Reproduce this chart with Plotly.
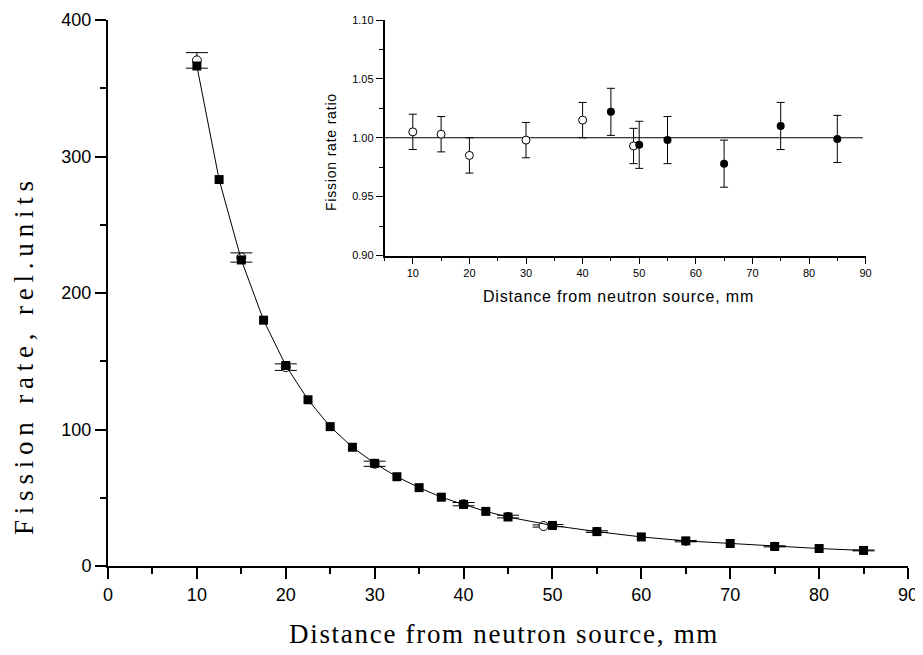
import plotly.graph_objects as go

# ---- Main plot data ----
dist_sq = [10, 12.5, 15, 17.5, 20, 22.5, 25, 27.5, 30, 32.5, 35, 37.5, 40, 42.5, 45,
           50, 55, 60, 65, 70, 75, 80, 85]
rate_sq = [366.3, 283.1, 224.2, 180.1, 146.9, 121.8, 102.1, 87.0, 75.2, 65.4, 57.4, 50.4,
           45.1, 40.0, 35.9, 29.7, 25.2, 21.3, 18.4, 16.5, 14.3, 12.8, 11.4]

dist_open = [10, 15, 20, 30, 40, 49]
rate_open = [370.4, 226.0, 145.7, 74.9, 45.3, 29.3]
err_open = [5.7, 3.4, 2.4, 1.9, 1.2, 0.8]

dist_fill = [45, 50, 55, 65, 75, 85]
rate_fill = [36.2, 29.6, 25.2, 18.2, 14.4, 11.4]
err_fill = [1.0, 0.8, 0.6, 0.5, 0.4, 0.3]

# ---- Inset data (ratio) ----
ins_x_open = [10, 15, 20, 30, 40, 49]
ins_y_open = [1.005, 1.003, 0.985, 0.998, 1.015, 0.993]
ins_e_open = [0.015, 0.015, 0.015, 0.015, 0.015, 0.015]

ins_x_fill = [45, 50, 55, 65, 75, 85]
ins_y_fill = [1.022, 0.994, 0.998, 0.978, 1.010, 0.999]
ins_e_fill = [0.020, 0.020, 0.020, 0.020, 0.020, 0.020]

ref_ratio = 1.0
ref_x = [5, 89.5]

main_x_ticks = [0, 10, 20, 30, 40, 50, 60, 70, 80, 90]
main_y_ticks = [0, 100, 200, 300, 400]
ins_x_ticks = [10, 20, 30, 40, 50, 60, 70, 80, 90]
ins_y_ticks = [0.90, 0.95, 1.00, 1.05, 1.10]

SANS = "Liberation Sans, Arial, sans-serif"
SERIF = "Liberation Serif, Times New Roman, serif"

# plot area in page pixels (page body adds an 8 px offset)
PLOT_TOP, PLOT_BOTTOM = 20, 566
PLOT_H = PLOT_BOTTOM - PLOT_TOP


def py(page_y):
    return (PLOT_BOTTOM - page_y) / PLOT_H


def px(page_x):
    return (page_x - 108) / 800


def spaced(text, sp):
    return '<span style="letter-spacing:%spx">%s</span>' % (sp, text)


fig = go.Figure()

# error bars + circles (mostly hidden behind squares)
fig.add_trace(go.Scatter(
    x=dist_fill, y=rate_fill, mode="markers",
    marker=dict(symbol="circle", size=9, color="black"),
    error_y=dict(type="data", array=err_fill, color="black", thickness=1, width=11),
    showlegend=False))
fig.add_trace(go.Scatter(
    x=dist_open, y=rate_open, mode="markers",
    marker=dict(symbol="circle", size=9, color="white", line=dict(color="black", width=1)),
    error_y=dict(type="data", array=err_open, color="black", thickness=1, width=11),
    showlegend=False))
fig.add_trace(go.Scatter(
    x=dist_sq, y=rate_sq, mode="lines+markers",
    line=dict(color="black", width=1),
    marker=dict(symbol="square", size=9, color="black"),
    showlegend=False))

# inset
fig.add_trace(go.Scatter(
    x=ref_x, y=[ref_ratio, ref_ratio], mode="lines", xaxis="x2", yaxis="y2",
    line=dict(color="black", width=1.2), showlegend=False, hoverinfo="skip"))
fig.add_trace(go.Scatter(
    x=ins_x_open, y=ins_y_open, mode="markers", xaxis="x2", yaxis="y2",
    marker=dict(symbol="circle", size=8, color="white", line=dict(color="black", width=1)),
    error_y=dict(type="data", array=ins_e_open, color="black", thickness=1, width=4),
    showlegend=False))
fig.add_trace(go.Scatter(
    x=ins_x_fill, y=ins_y_fill, mode="markers", xaxis="x2", yaxis="y2",
    marker=dict(symbol="circle", size=8, color="black"),
    error_y=dict(type="data", array=ins_e_fill, color="black", thickness=1, width=4),
    showlegend=False))

axis_common = dict(showgrid=False, zeroline=False, showline=True, linecolor="black",
                   ticks="outside", tickcolor="black", mirror=False, automargin=False,
                   ticklabeloverflow="allow")

fig.update_layout(
    width=915, height=647,
    margin=dict(l=100, r=15, t=PLOT_TOP - 8, b=647 + 8 - PLOT_BOTTOM, autoexpand=False),
    paper_bgcolor="white", plot_bgcolor="rgba(0,0,0,0)",
    xaxis=dict(**axis_common, range=[0, 90], tickvals=main_x_ticks, linewidth=2,
               ticklen=11, tickwidth=1.5,
               minor=dict(dtick=5, ticks="outside", ticklen=6, tickcolor="black", tickwidth=1.5),
               tickfont=dict(family=SANS, size=18, color="black")),
    yaxis=dict(**axis_common, range=[0, 400], tickvals=main_y_ticks, linewidth=2,
               ticklen=11, tickwidth=1.5,
               minor=dict(dtick=50, ticks="outside", ticklen=6, tickcolor="black", tickwidth=1.5),
               tickfont=dict(family=SANS, size=18, color="black")),
    xaxis2=dict(**axis_common, domain=[px(384.5), px(865.6)], anchor="y2", range=[5, 90],
                tickvals=ins_x_ticks, linewidth=1.5, ticklen=7, tickwidth=1,
                minor=dict(dtick=5, ticks="outside", ticklen=4, tickcolor="black", tickwidth=1),
                tickfont=dict(family=SANS, size=11, color="black")),
    yaxis2=dict(**axis_common, domain=[py(255.5), 1.0], anchor="x2", range=[0.90, 1.10],
                tickvals=ins_y_ticks, tickformat=".2f", linewidth=1.5, ticklen=7, tickwidth=1,
                minor=dict(dtick=0.025, ticks="outside", ticklen=4, tickcolor="black", tickwidth=1),
                tickfont=dict(family=SANS, size=11, color="black")),
    annotations=[
        dict(text=spaced("Distance from neutron source, mm", 1.7), xref="paper", yref="paper",
             x=0.495, y=py(634), xanchor="center", yanchor="middle", showarrow=False,
             font=dict(family=SERIF, size=27, color="black")),
        dict(text=spaced("Fission rate, rel.units", 5.8), xref="paper", yref="paper",
             x=px(24), y=py(355), xanchor="center", yanchor="middle", showarrow=False,
             textangle=-90, font=dict(family=SERIF, size=27, color="black")),
        dict(text=spaced("Distance from neutron source, mm", 0.8), xref="paper", yref="paper",
             x=px(618), y=py(296), xanchor="center", yanchor="middle",
             showarrow=False, font=dict(family=SANS, size=16, color="black")),
        dict(text=spaced("Fission rate ratio", 0.8), xref="paper", yref="paper",
             x=px(331), y=py(152), xanchor="center", yanchor="middle",
             showarrow=False, textangle=-90, font=dict(family=SANS, size=14, color="black")),
    ],
)

fig.write_html("out.html")
